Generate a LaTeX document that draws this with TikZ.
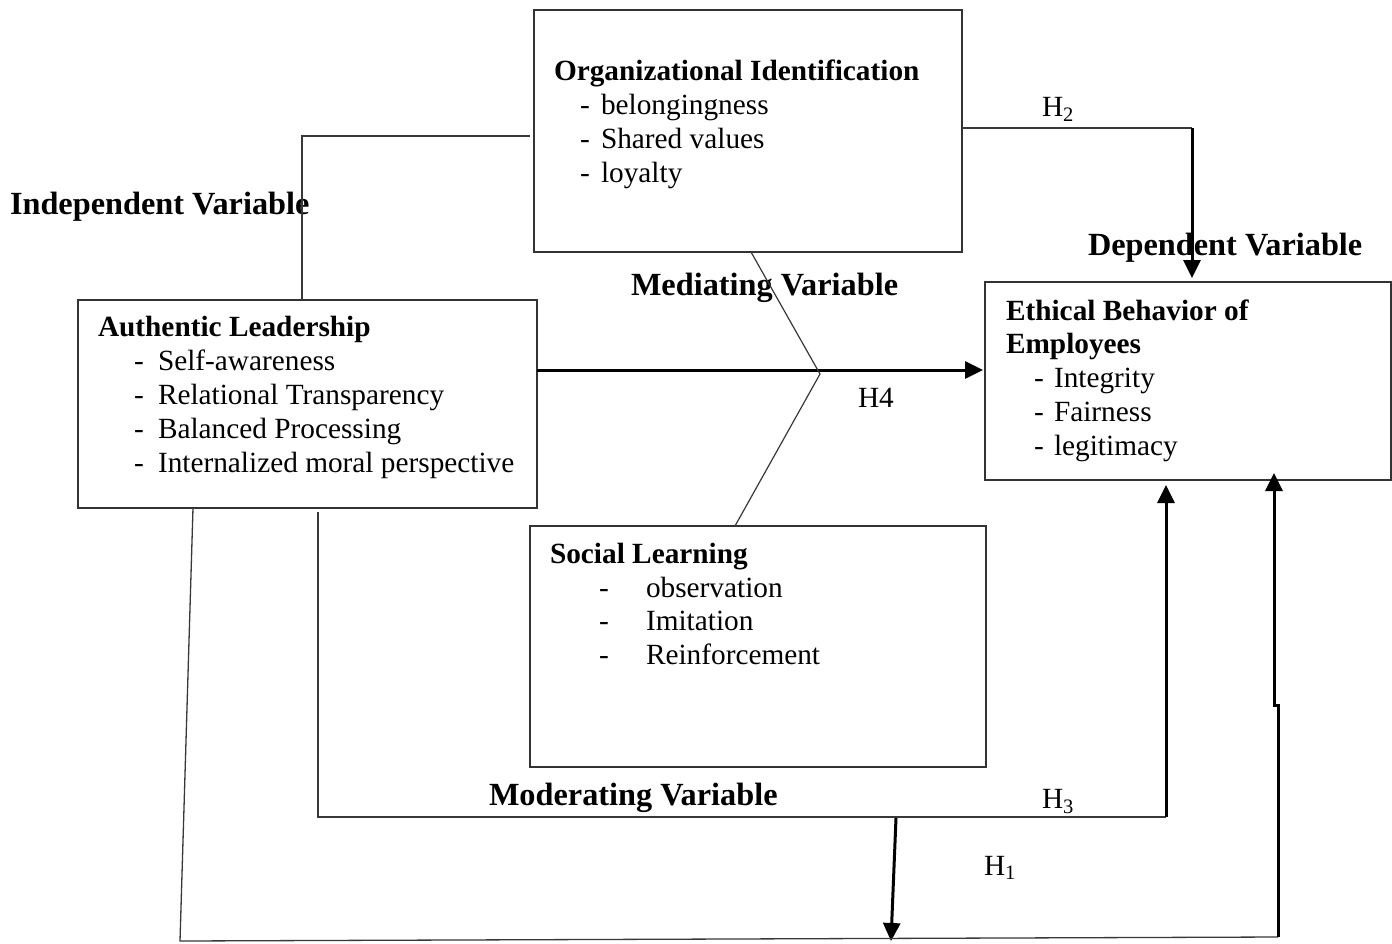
\documentclass[tikz,border=0pt]{standalone}
\usepackage{fontspec}
\setmainfont{Liberation Serif}
\usetikzlibrary{arrows.meta,calc}
\begin{document}
\begin{tikzpicture}[x=1pt,y=-1pt,
  boxst/.style={draw=black!80,line width=1.4pt,inner sep=0pt,outer sep=0pt,anchor=north west},
  txt/.style={anchor=base west,inner sep=0pt,outer sep=0pt,font=\fontsize{29.3}{34}\selectfont},
  hd/.style={txt,font=\fontsize{29.3}{34}\selectfont\bfseries},
  lbl/.style={txt,font=\fontsize{32.3}{37}\selectfont\bfseries},
  thinln/.style={draw=black!78,line width=1.3pt},
  thickarr/.style={draw=black,line width=3pt,-{Triangle[length=18pt,width=17pt]}},
  thickln/.style={draw=black,line width=3pt}]
\useasboundingbox (0,0) rectangle (1392,943);

% boxes
\node[boxst,minimum width=428pt,minimum height=242pt] (oi) at (534,10) {};
\node[boxst,minimum width=459pt,minimum height=208pt] (al) at (78,300) {};
\node[boxst,minimum width=406pt,minimum height=198pt] (eb) at (985,282) {};
\node[boxst,minimum width=456pt,minimum height=241pt] (sl) at (530,526) {};

% Organizational Identification
\node[hd] (oit) at (554,80) {Organizational Identification};
\node[txt] (oid1) at (580,114) {-};
\node[txt] (oii1) at (601,114) {belongingness};
\node[txt] (oid2) at (580,148) {-};
\node[txt] (oii2) at (601,148) {Shared values};
\node[txt] (oid3) at (580,182) {-};
\node[txt] (oii3) at (601,182) {loyalty};

% Authentic Leadership
\node[hd] (alt) at (98,336) {Authentic Leadership};
\node[txt] (ald1) at (134,370) {-};
\node[txt] (ali1) at (158,370) {Self-awareness};
\node[txt] (ald2) at (134,404) {-};
\node[txt] (ali2) at (158,404) {Relational Transparency};
\node[txt] (ald3) at (134,438) {-};
\node[txt] (ali3) at (158,438) {Balanced Processing};
\node[txt] (ald4) at (134,472) {-};
\node[txt] (ali4) at (158,472) {Internalized moral perspective};

% Ethical Behavior
\node[hd] (ebt1) at (1006,320) {Ethical Behavior of};
\node[hd] (ebt2) at (1006,353) {Employees};
\node[txt] (ebd1) at (1034,387) {-};
\node[txt] (ebi1) at (1054,387) {Integrity};
\node[txt] (ebd2) at (1034,421) {-};
\node[txt] (ebi2) at (1054,421) {Fairness};
\node[txt] (ebd3) at (1034,455) {-};
\node[txt] (ebi3) at (1054,455) {legitimacy};

% Social Learning
\node[hd] (slt) at (550,563) {Social Learning};
\node[txt] (sld1) at (599,597) {-};
\node[txt] (sli1) at (646,597) {observation};
\node[txt] (sld2) at (599,630) {-};
\node[txt] (sli2) at (646,630) {Imitation};
\node[txt] (sld3) at (599,664) {-};
\node[txt] (sli3) at (646,664) {Reinforcement};

% variable labels
\node[lbl] (lind) at (10,214) {Independent Variable};
\node[lbl] (ldep) at (1088,255) {Dependent Variable};
\node[lbl] (lmed) at (631,295) {Mediating Variable};
\node[lbl] (lmod) at (489,805) {Moderating Variable};

% hypothesis labels
\node[txt] (h2) at (1042,116) {H\textsubscript{2}};
\node[txt] (h4) at (858,407) {H4};
\node[txt] (h3) at (1042,808) {H\textsubscript{3}};
\node[txt] (h1) at (984,875) {H\textsubscript{1}};

% coordinates
\coordinate (h2c) at (1192,128);
\coordinate (h4y) at (0,370);
\coordinate (mk) at (820,374);
\coordinate (h3c) at (1166,817);
\coordinate (h1s) at (896,818);
\coordinate (h1e) at (891,941);
\coordinate (bl) at (180,941);
\coordinate (br) at (1278,937);
\coordinate (jog1) at (1278,705);
\coordinate (jog2) at (1274,705);
\coordinate (h1t) at (1274,473);

% connectors
\draw[thinln,shorten >=4pt] ([xshift=224pt]al.north west) |- ([yshift=-5pt]oi.west);
\draw[thinln] (oi.east |- h2c) -- (h2c);
\draw[thickarr,shorten >=4pt] (h2c) -- (h2c |- eb.north);
\draw[thickarr,shorten >=2pt] (al.east |- h4y) -- (eb.west |- h4y);
\draw[thinln,line width=1.2pt] ([xshift=217pt]oi.south west) -- (mk) -- ([xshift=205pt]sl.north west);
\draw[thinln] ([xshift=240pt,yshift=-4pt]al.south west) |- (h3c);
\draw[thickarr,shorten >=5pt] (h3c) -- (h3c |- eb.south);
\draw[thickarr] (h1s) -- (h1e);
\draw[thinln] ([xshift=115pt]al.south west) -- (bl) -- (br);
\draw[thickarr] (br) -- (jog1) -- (jog2) -- (h1t);
\end{tikzpicture}
\end{document}
